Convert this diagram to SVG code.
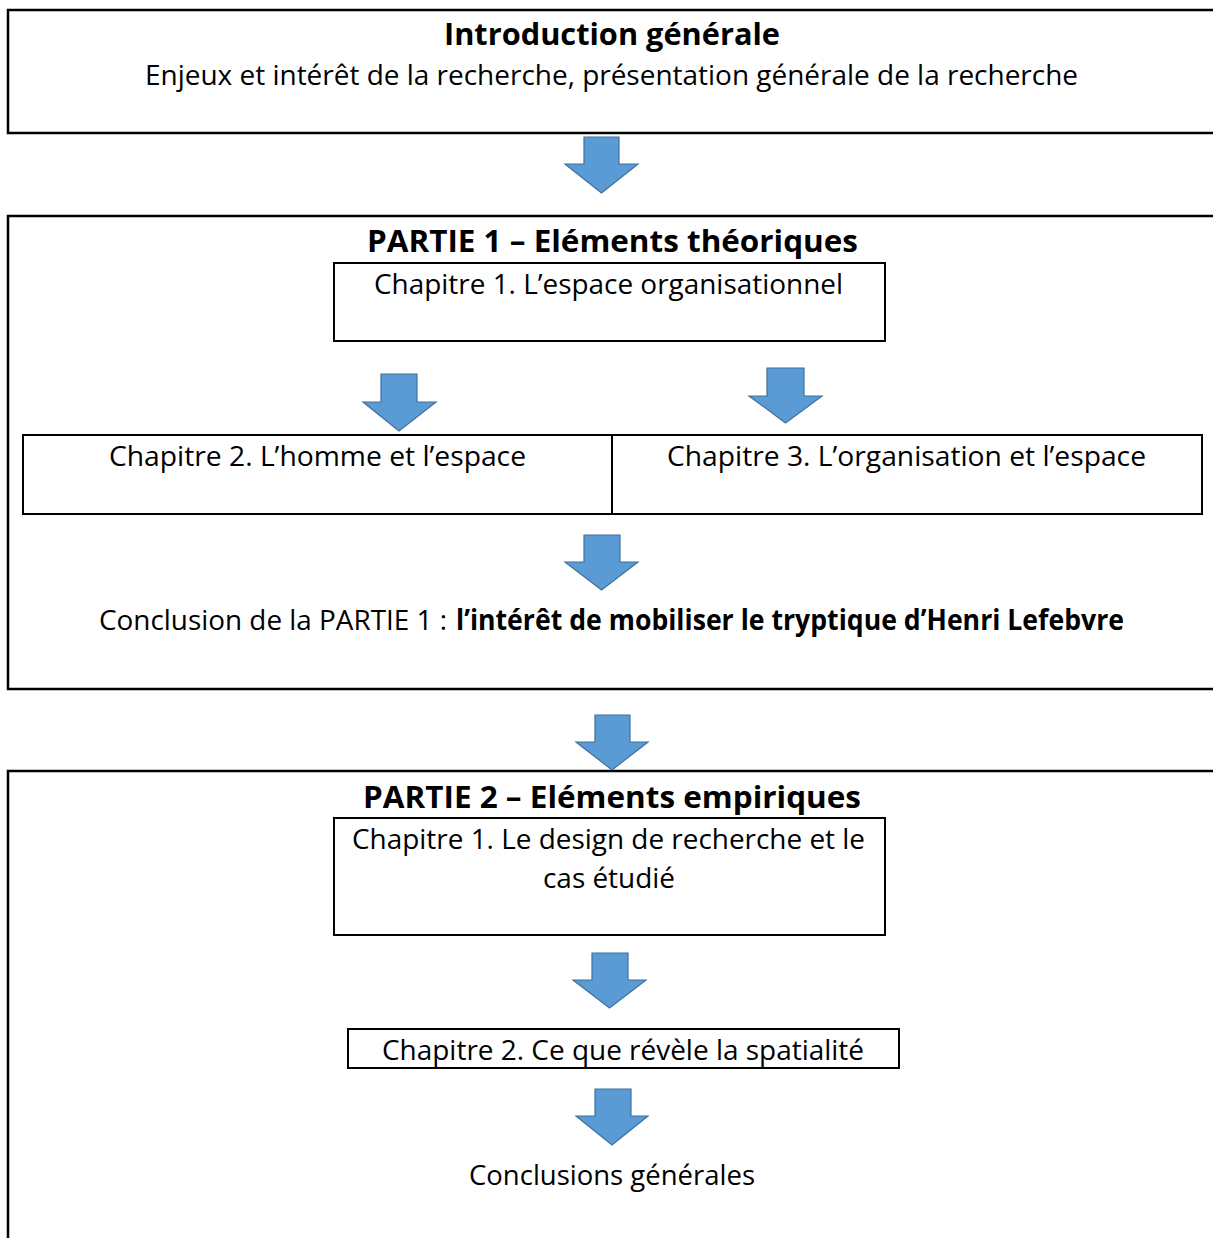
<svg xmlns="http://www.w3.org/2000/svg" width="1213" height="1238" viewBox="0 0 1213 1238">
<style>
.box{fill:none;stroke:#000;stroke-width:2}
.outer{fill:none;stroke:#000;stroke-width:2.5}
.arrow{fill:#5B9BD5;stroke:#41719C;stroke-width:1.2}
.t{font-family:"Open Sans","Noto Sans",sans-serif;font-size:28px;fill:#000}
.b{font-family:"Open Sans","Noto Sans",sans-serif;font-size:30px;font-weight:bold;fill:#000}
.cb{font-family:"Open Sans","Noto Sans",sans-serif;font-size:28px;font-weight:bold;fill:#000}
</style>
<rect width="1213" height="1238" fill="#fff"/>
<g id="intro">
<path class="outer" d="M1215,10 H8 V133 H1215"/>
<text class="b" x="444" y="45" textLength="336" lengthAdjust="spacingAndGlyphs">Introduction générale</text>
<text class="t" x="145" y="85" textLength="933" lengthAdjust="spacingAndGlyphs">Enjeux et intérêt de la recherche, présentation générale de la recherche</text>
</g>
<g id="partie1">
<path class="outer" d="M1215,216 H8 V689 H1215"/>
<text class="b" x="367" y="252" textLength="491" lengthAdjust="spacingAndGlyphs">PARTIE 1 – Eléments théoriques</text>
</g>
<g id="p1ch1">
<rect class="box" x="334" y="263" width="551" height="78"/>
<text class="t" x="374" y="294" textLength="469" lengthAdjust="spacingAndGlyphs">Chapitre 1. L’espace organisationnel</text>
</g>
<g id="p1ch2">
<rect class="box" x="23" y="435" width="589" height="79"/>
<text class="t" x="109" y="466" textLength="417" lengthAdjust="spacingAndGlyphs">Chapitre 2. L’homme et l’espace</text>
</g>
<g id="p1ch3">
<rect class="box" x="612" y="435" width="590" height="79"/>
<text class="t" x="667" y="466" textLength="479" lengthAdjust="spacingAndGlyphs">Chapitre 3. L’organisation et l’espace</text>
</g>
<g id="p1conclusion">
<text class="t" x="99" y="630" textLength="348" lengthAdjust="spacingAndGlyphs">Conclusion de la PARTIE 1 :</text>
<text class="cb" x="456" y="630" textLength="668" lengthAdjust="spacingAndGlyphs">l’intérêt de mobiliser le tryptique d’Henri Lefebvre</text>
</g>
<g id="partie2">
<path class="outer" d="M1215,771 H8 V1240"/>
<text class="b" x="363" y="808" textLength="498" lengthAdjust="spacingAndGlyphs">PARTIE 2 – Eléments empiriques</text>
</g>
<g id="p2ch1">
<rect class="box" x="334" y="818" width="551" height="117"/>
<text class="t" x="352" y="849" textLength="513" lengthAdjust="spacingAndGlyphs">Chapitre 1. Le design de recherche et le</text>
<text class="t" x="543" y="888" textLength="132" lengthAdjust="spacingAndGlyphs">cas étudié</text>
</g>
<g id="p2ch2">
<rect class="box" x="348" y="1029" width="551" height="39"/>
<text class="t" x="382" y="1060" textLength="482" lengthAdjust="spacingAndGlyphs">Chapitre 2. Ce que révèle la spatialité</text>
</g>
<g id="p2conclusion">
<text class="t" x="469" y="1185" textLength="286" lengthAdjust="spacingAndGlyphs">Conclusions générales</text>
</g>
<g id="connectors">
<path class="arrow" d="M584,137 H619 V164 H638 L601.5,193 L565,164 H584 Z"/>
<path class="arrow" d="M381,374 H417 V402 H436 L399,431 L363,402 H381 Z"/>
<path class="arrow" d="M767,368 H804 V396 H822 L785.5,423 L749,396 H767 Z"/>
<path class="arrow" d="M584,535 H620 V562 H638 L601.5,590 L565,562 H584 Z"/>
<path class="arrow" d="M595,715 H630 V742 H648 L612,770 L576,742 H595 Z"/>
<path class="arrow" d="M592,953 H628 V980 H646 L609.5,1008 L573,980 H592 Z"/>
<path class="arrow" d="M595,1089 H631 V1116 H648 L612,1145 L576,1116 H595 Z"/>
</g>
</svg>
